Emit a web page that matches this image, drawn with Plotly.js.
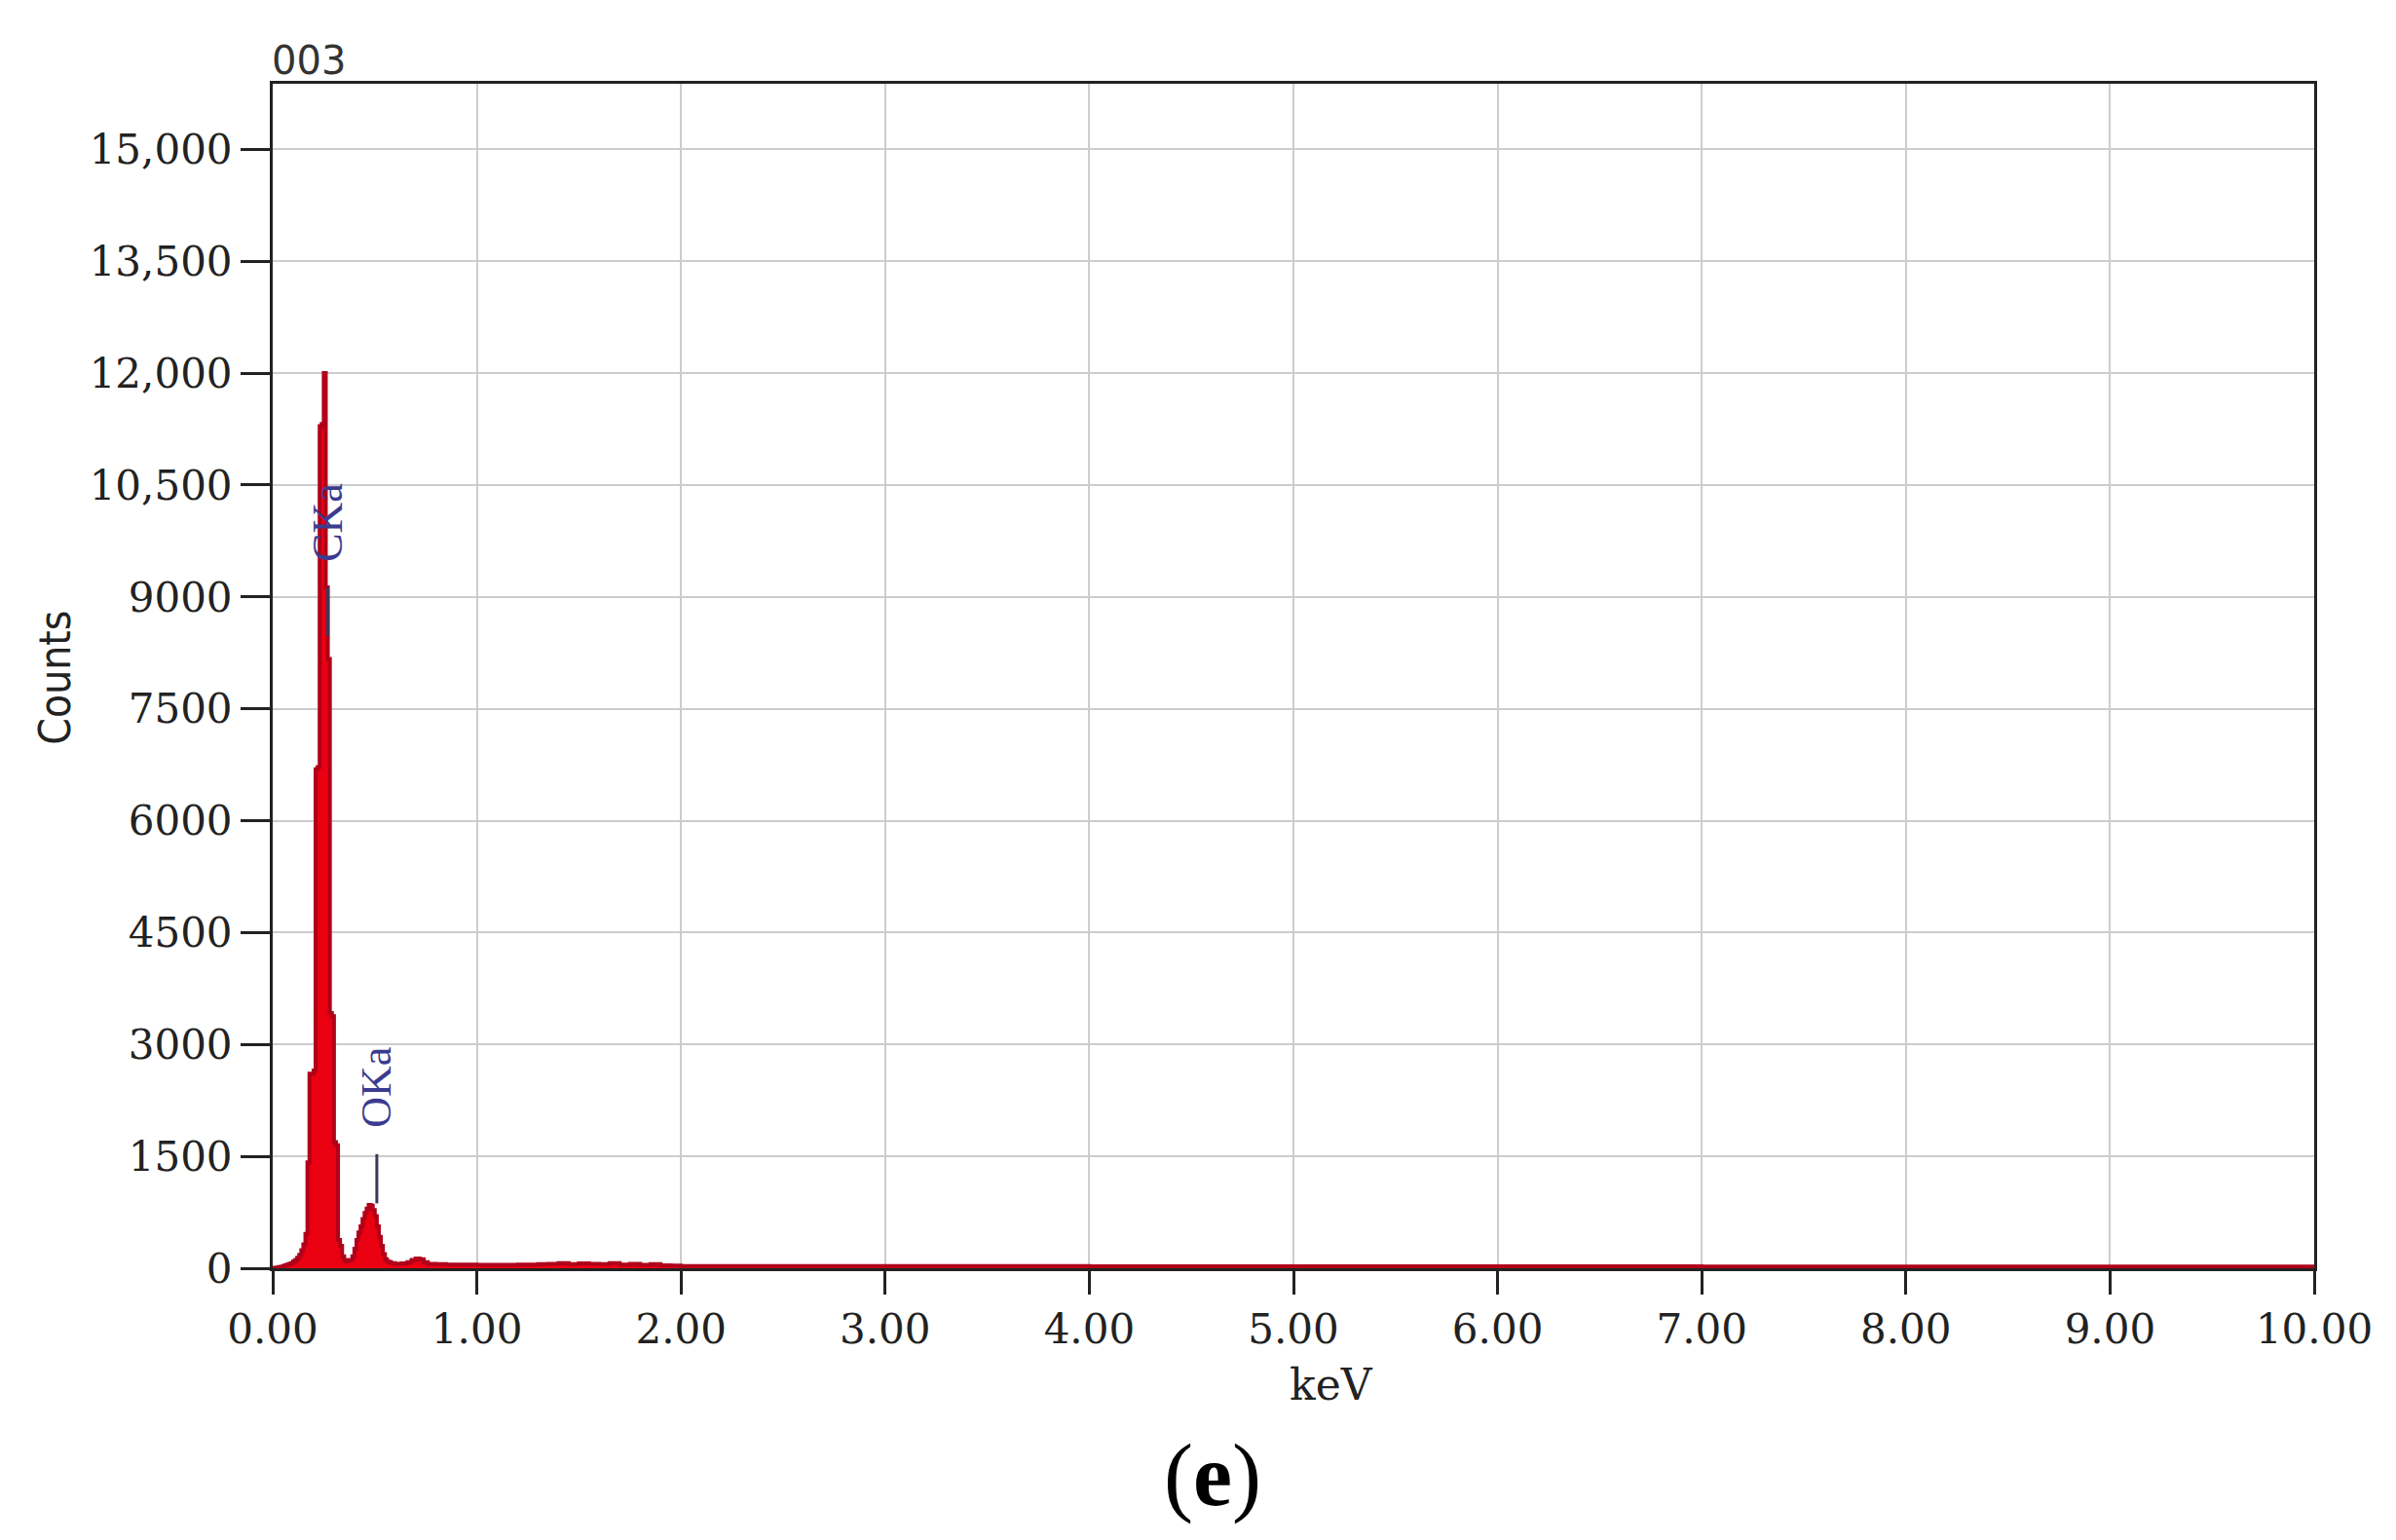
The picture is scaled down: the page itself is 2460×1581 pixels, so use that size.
<!DOCTYPE html>
<html>
<head>
<meta charset="utf-8">
<script src="https://cdn.plot.ly/plotly-3.0.1.min.js"></script>
<style>
  html, body { margin: 0; padding: 0; background: #fff; }
  #chart { width: 2460px; height: 1581px; }
</style>
</head>
<body>
<div id="chart"></div>
<script>
  // spectrum channels (keV, left edge) and counts
  const energy = [
    0.00, 0.01, 0.02, 0.03, 0.04, 0.05, 0.06, 0.07, 0.08, 0.09,
    0.10, 0.11, 0.12, 0.13, 0.14, 0.15, 0.16, 0.17, 0.18, 0.19,
    0.20, 0.21, 0.22, 0.23, 0.24, 0.25, 0.26, 0.27, 0.28, 0.29,
    0.30, 0.31, 0.32, 0.33, 0.34, 0.35, 0.36, 0.37, 0.38, 0.39,
    0.40, 0.41, 0.42, 0.43, 0.44, 0.45, 0.46, 0.47, 0.48, 0.49,
    0.50, 0.51, 0.52, 0.53, 0.54, 0.55, 0.56, 0.57, 0.58, 0.60,
    0.63, 0.66, 0.68, 0.70, 0.72, 0.74, 0.76, 0.80, 0.85, 0.90,
    1.00, 1.10, 1.20, 1.30, 1.35, 1.40, 1.45, 1.50, 1.55, 1.60,
    1.65, 1.70, 1.75, 1.80, 1.85, 1.90, 1.95, 2.00, 3.00, 4.00,
    5.00, 6.00, 7.00, 8.00, 9.00, 10.00
  ];
  const counts = [
    0, 5, 10, 15, 20, 30, 40, 50, 60, 70,
    90, 110, 140, 180, 240, 320, 460, 1420, 2610, 2610,
    2650, 6690, 6720, 11290, 11320, 12000, 9130, 8170, 3420, 3380,
    1690, 1650, 380, 300, 160, 110, 90, 100, 110, 160,
    260, 380, 480, 560, 660, 740, 800, 850, 840, 780,
    700, 560, 420, 300, 190, 120, 90, 80, 70, 60,
    65, 80, 110, 130, 120, 80, 60, 55, 50, 50,
    45, 45, 50, 55, 60, 70, 55, 65, 60, 55,
    70, 50, 60, 45, 55, 40, 35, 30, 28, 26,
    25, 25, 24, 24, 22, 20
  ];

  const yTickVals = [0, 1500, 3000, 4500, 6000, 7500, 9000, 10500, 12000, 13500, 15000];
  const yTickText = ['0', '1500', '3000', '4500', '6000', '7500', '9000', '10,500', '12,000', '13,500', '15,000'];
  const xTickVals = [0, 1, 2, 3, 4, 5, 6, 7, 8, 9, 10];
  const xTickText = ['0.00', '1.00', '2.00', '3.00', '4.00', '5.00', '6.00', '7.00', '8.00', '9.00', '10.00'];

  // element line markers: label, energy, label centre height, marker line top/bottom
  const lineLabels = ['CKa', 'OKa'];
  const lineEnergy = [0.27, 0.51];
  const labelY = [10000, 2430];
  const markTop = [9130, 1530];
  const markBottom = [8480, 870];

  const tickFont = { family: 'DejaVu Serif, serif', size: 42, color: '#222' };

  const trace = {
    x: energy,
    y: counts,
    type: 'scatter',
    mode: 'lines',
    line: { shape: 'hv', color: '#b0001a', width: 4 },
    fill: 'tozeroy',
    fillcolor: '#ea0010',
    hoverinfo: 'x+y'
  };

  const annotations = lineLabels.map((t, i) => ({
    text: t, x: lineEnergy[i], y: labelY[i], xref: 'x', yref: 'y',
    xanchor: 'center', yanchor: 'middle',
    showarrow: false, textangle: -90,
    font: { family: 'Liberation Serif, serif', size: 44, color: '#3b3b8f' }
  }));
  annotations.push(
    { text: 'keV', x: 0.5186, y: -0.098, xref: 'paper', yref: 'paper', showarrow: false,
      xanchor: 'center', yanchor: 'middle',
      font: { family: 'DejaVu Serif, serif', size: 44, color: '#222' } },
    { text: 'Counts', x: -0.1064, y: 0.4986, xref: 'paper', yref: 'paper', showarrow: false,
      xanchor: 'center', yanchor: 'middle', textangle: -90,
      font: { family: 'Liberation Sans Narrow, DejaVu Sans Condensed, sans-serif', size: 44, color: '#222' } },
    { text: '(<b>e</b>)', x: 0.4604, y: -0.1752, xref: 'paper', yref: 'paper', showarrow: false,
      xanchor: 'center', yanchor: 'middle',
      font: { family: 'Liberation Serif, serif', size: 90, color: '#000' } }
  );

  const shapes = lineLabels.map((t, i) => ({
    type: 'line', xref: 'x', yref: 'y',
    x0: lineEnergy[i], x1: lineEnergy[i], y0: markBottom[i], y1: markTop[i],
    line: { color: '#3a3a5a', width: 3 }
  }));

  const layout = {
    width: 2460,
    height: 1581,
    paper_bgcolor: '#fff',
    plot_bgcolor: '#fff',
    margin: { l: 280, r: 84, t: 86, b: 279 },
    showlegend: false,
    title: {
      text: '003', xref: 'container', yref: 'container',
      x: 279 / 2460, xanchor: 'left', y: 1 - 62 / 1581, yanchor: 'middle',
      font: { family: 'DejaVu Sans, sans-serif', size: 40, color: '#333' }
    },
    xaxis: {
      range: [0, 10],
      tickvals: xTickVals,
      ticktext: xTickText,
      ticks: 'outside', ticklen: 24, tickwidth: 3, tickcolor: '#222',
      showline: true, linecolor: '#222', linewidth: 3, mirror: true,
      showgrid: true, gridcolor: '#cdcdcd', gridwidth: 2,
      zeroline: false,
      tickfont: tickFont
    },
    yaxis: {
      range: [0, 15880],
      tickvals: yTickVals,
      ticktext: yTickText,
      ticks: 'outside', ticklen: 30, tickwidth: 3, tickcolor: '#222',
      showline: true, linecolor: '#222', linewidth: 3, mirror: true,
      showgrid: true, gridcolor: '#cdcdcd', gridwidth: 2,
      zeroline: false,
      tickfont: tickFont
    },
    annotations: annotations,
    shapes: shapes
  };

  Plotly.newPlot('chart', [trace], layout, { staticPlot: true });
</script>
</body>
</html>
